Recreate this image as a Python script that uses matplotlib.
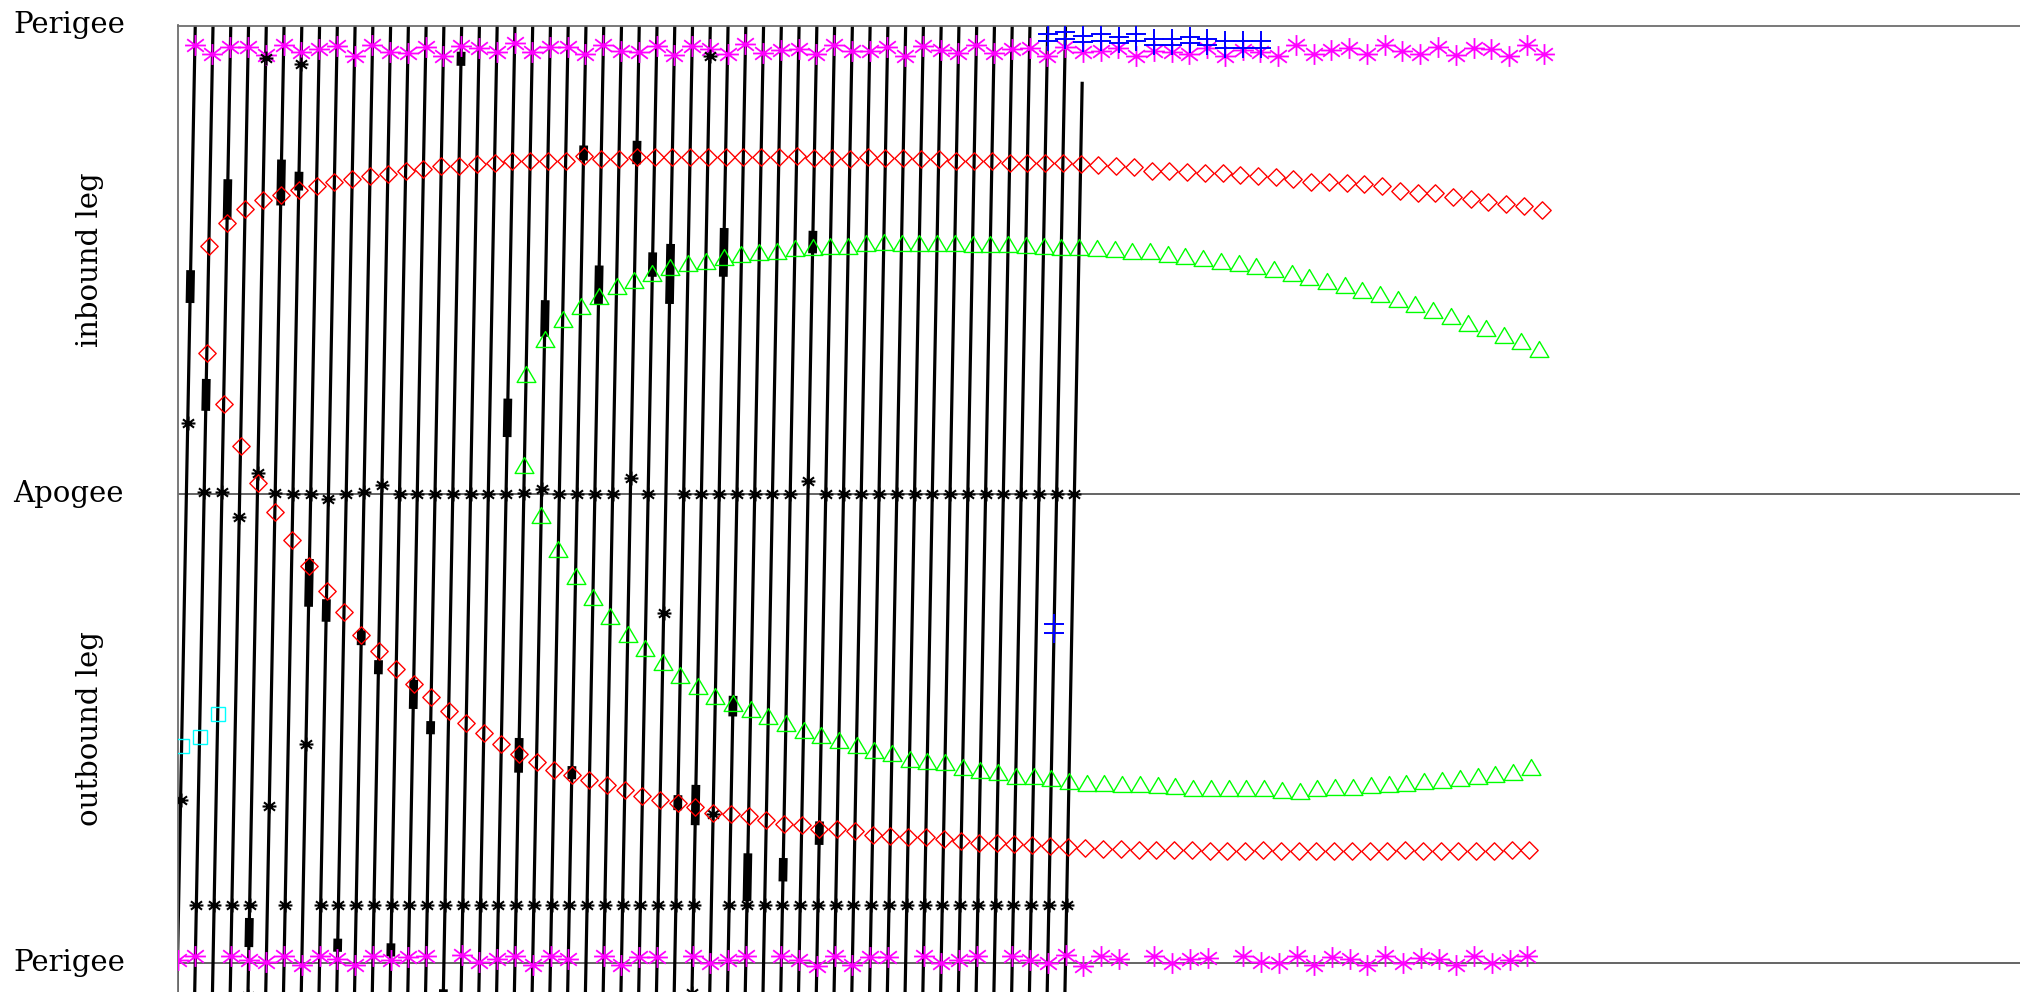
import numpy as np
import matplotlib
matplotlib.use("Agg")
import matplotlib.pyplot as plt
from matplotlib.path import Path
from matplotlib.transforms import blended_transform_factory

# x axis = time in orbits, y axis = orbital phase (0 perigee, 0.5 apogee, 1 next perigee)

n_orbit_lines = 51
orbit_line_end = [1.0] * 50 + [0.94]

top_mag_phase = [0.979,0.970,0.977,0.977,0.969,0.979,0.972,0.975,0.978,0.968,0.979,0.972,0.971,0.977,0.968,0.978,
                 0.976,0.972,0.981,0.972,0.977,0.977,0.970,0.979,0.973,0.972,0.978,0.969,0.978,0.975,0.970,0.980,
                 0.971,0.974,0.975,0.970,0.979,0.973,0.973,0.977,0.968,0.978,0.974,0.971,0.979,0.971,0.975,0.976,
                 0.968,0.977,0.972,0.973,0.976,0.967,0.973,0.972,0.970,0.976,0.968,0.974,0.972,0.968,0.979,0.970,
                 0.974,0.976,0.970,0.979,0.973,0.970,0.977,0.969,0.976,0.975,0.968,0.979,0.970]
top_mag_orbit = list(range(len(top_mag_phase)))

bot_mag_orbit = [0,1,3,4,5,6,7,8,9,10,11,12,13,14,16,17,18,19,20,21,22,24,25,26,27,29,30,31,32,34,
                 35,36,37,38,39,40,42,43,44,45,47,48,49,50,51,52,53,55,56,57,58,60,61,62,63,64,65,66,67,68,
                 69,70,71,72,73,74,75,76]
bot_mag_phase = [0.003,0.008,0.008,0.003,0.001,0.008,-0.002,0.007,0.004,-0.002,
                 0.008,0.003,0.006,0.008,0.009,0.001,0.004,0.008,-0.002,0.008,
                 0.004,0.008,-0.002,0.006,0.006,0.008,0.000,0.003,0.008,0.008,
                 0.003,-0.003,0.008,-0.002,0.006,0.006,0.008,0.000,0.003,0.008,
                 0.007,0.003,0.000,0.009,-0.003,0.007,0.004,0.008,0.000,0.004,
                 0.005,0.008,0.001,0.000,0.008,-0.002,0.006,0.004,-0.002,0.008,
                 0.000,0.005,0.004,-0.002,0.008,0.000,0.003,0.008]

red_in_phase = [0.765,0.789,0.804,0.814,0.819,0.825,0.829,0.833,0.836,0.839,0.842,0.845,0.847,0.850,0.850,0.852,
                0.853,0.855,0.855,0.856,0.856,0.861,0.858,0.858,0.860,0.860,0.860,0.860,0.860,0.860,0.860,0.860,
                0.860,0.861,0.859,0.859,0.858,0.860,0.859,0.859,0.858,0.858,0.856,0.855,0.855,0.853,0.853,0.853,
                0.853,0.852,0.851,0.850,0.849,0.845,0.845,0.844,0.843,0.843,0.841,0.840,0.838,0.836,0.833,0.833,
                0.832,0.831,0.829,0.824,0.821,0.821,0.817,0.815,0.812,0.810,0.808,0.803]
red_in_orbit = list(range(1, 1 + len(red_in_phase)))

red_out_phase = [0.651,0.596,0.551,0.512,0.481,0.451,0.424,0.397,0.374,0.350,0.333,0.314,0.298,0.284,
                 0.269,0.256,0.245,0.234,0.223,0.214,0.206,0.201,0.195,0.190,0.185,0.178,0.174,0.171,
                 0.166,0.160,0.159,0.157,0.153,0.148,0.147,0.143,0.143,0.141,0.137,0.135,0.134,0.134,
                 0.132,0.130,0.128,0.128,0.127,0.126,0.125,0.124,0.123,0.122,0.122,0.121,0.121,0.121,
                 0.121,0.120,0.119,0.120,0.121,0.120,0.120,0.119,0.119,0.120,0.119,0.119,0.121,0.120,
                 0.120,0.120,0.120,0.120,0.121,0.121]
red_out_orbit = list(range(1, 1 + len(red_out_phase)))

green_in_phase = [0.628,0.666,0.687,0.701,0.712,0.722,0.729,0.736,0.742,0.747,0.749,0.753,0.756,0.758,
                  0.760,0.763,0.764,0.765,0.765,0.768,0.769,0.768,0.768,0.768,0.768,0.767,0.767,0.767,
                  0.766,0.765,0.764,0.764,0.763,0.762,0.760,0.759,0.756,0.754,0.752,0.749,0.747,0.743,
                  0.740,0.736,0.732,0.727,0.723,0.718,0.714,0.708,0.703,0.697,0.690,0.683,0.677,0.670,
                  0.663,0.655]
green_in_orbit = list(range(19, 19 + len(green_in_phase)))

green_out_phase = [0.531,0.478,0.442,0.413,0.390,0.370,0.351,0.336,0.321,0.307,0.295,0.285,0.277,0.271,
                   0.263,0.256,0.249,0.243,0.238,0.233,0.227,0.224,0.218,0.215,0.214,0.209,0.206,0.204,
                   0.200,0.199,0.197,0.194,0.192,0.192,0.191,0.191,0.190,0.189,0.187,0.187,0.187,0.187,
                   0.187,0.185,0.184,0.187,0.188,0.188,0.190,0.191,0.192,0.194,0.195,0.197,0.199,0.202,
                   0.204,0.209]
green_out_orbit = list(range(19, 19 + len(green_out_phase)))

cyan_orbit = [0, 1, 2]
cyan_phase = [0.232, 0.241, 0.266]

blue_orbit = [48,49,50,51,52,53,54,55,56,57,58,59,60]
blue_phase = [0.991,0.993,0.989,0.991,0.988,0.991,0.986,0.986,0.988,0.986,0.983,0.983,0.983]
blue_lone_orbit = [49, 49]
blue_lone_phase = [0.362, 0.352]

# black asterisks
apo_orbit = [1,2,3,4,5,6,7,8,9,10,11,12,13,14,15,16,17,18,19,20,21,22,23,24,25,26,
             28,29,30,31,32,33,34,35,36,37,38,39,40,41,42,43,44,45,46,47,48,49,50]
apo_phase = [0.502,0.502,0.476,0.523,0.501,0.500,0.500,0.495,0.500,0.502,0.510,0.500,0.500,0.500,
             0.500,0.500,0.500,0.500,0.501,0.506,0.500,0.500,0.500,0.500,0.517,0.500,
             0.500,0.500,0.500,0.500,0.500,0.500,0.500,0.514,0.500,0.500,0.500,0.500,0.500,0.500,
             0.500,0.500,0.500,0.500,0.500,0.500,0.500,0.500,0.500]
low_orbit = [1,2,3,4,6,8,9,10,11,12,13,14,15,16,17,18,19,20,21,22,23,24,25,26,27,28,29,
             31,32,33,34,35,36,37,38,39,40,41,42,43,44,45,46,47,48,49,50]
low_phase = [0.062] * len(low_orbit)
odd_orbit = [0, 0, 5, 7, 27, 30, 4, 6, 29, 4, 29]
odd_phase = [0.576, 0.174, 0.167, 0.234, 0.373, 0.159, 0.965, 0.959, 0.968, -0.035, -0.032]

# thick black segments: orbit, phase start, phase end
seg_orbit = [0,1,2,4,5,6,7,8,9,10,11,12,13,14,15,15,18,19,20,22,22,23,25,26,27,28,29,30,31,32,34,35,36]
seg_lo = [0.704,0.589,0.793,0.017,0.808,0.824,0.380,0.364,0.012,0.339,0.308,0.007,0.271,0.244,0.957,-0.043,
          0.561,0.203,0.668,0.856,0.196,0.702,0.852,0.732,0.703,0.163,0.147,0.732,0.263,0.066,0.087,0.757,0.126]
seg_hi = [0.739,0.623,0.836,0.048,0.857,0.844,0.431,0.388,0.026,0.355,0.323,0.021,0.302,0.258,0.972,-0.028,
          0.602,0.240,0.707,0.872,0.210,0.744,0.877,0.758,0.767,0.179,0.190,0.784,0.285,0.117,0.112,0.781,0.151]

y_ticks = [0.0, 0.5, 1.0]
y_tick_labels = ["Perigee", "Apogee", "Perigee"]
leg_labels = ["inbound leg", "outbound leg"]
leg_pos = [0.75, 0.25]


def on_orbit(orbit, phase):
    orbit = np.asarray(orbit, dtype=float)
    phase = np.asarray(phase, dtype=float)
    return orbit + phase, phase


star = Path([(-1, 0), (1, 0), (0, -1), (0, 1), (-0.8, -0.6), (0.8, 0.6), (-0.8, 0.6), (0.8, -0.6)],
            [Path.MOVETO, Path.LINETO] * 4)
tri = Path([(0, 0.85), (-1, -0.85), (1, -0.85), (0, 0.85)],
           [Path.MOVETO, Path.LINETO, Path.LINETO, Path.CLOSEPOLY])
diamond = Path([(0, 1), (1, 0), (0, -1), (-1, 0), (0, 1)],
               [Path.MOVETO, Path.LINETO, Path.LINETO, Path.LINETO, Path.CLOSEPOLY])

fig = plt.figure(figsize=(20.2, 9.92), dpi=100)
left = 177.5 / 2020
ax = fig.add_axes([left, 0, 1 - left, 966.5 / 992])
ax.set_xlim(0, 1842.5 / 17.76)
ax.set_ylim(-29.0 / 938, 1.0)

for s in ["right", "bottom"]:
    ax.spines[s].set_visible(False)
for s in ["left", "top"]:
    ax.spines[s].set_color("#6e6e6e")
    ax.spines[s].set_linewidth(1.3)
ax.set_xticks([])
ax.set_yticks([])

ax.axhline(0.5, color="#3a3a3a", lw=1.1, zorder=1)
ax.axhline(0.0, color="#3a3a3a", lw=1.1, zorder=1)

# orbit tracks
for n in range(n_orbit_lines):
    xs, ys = on_orbit([n, n], [-0.05, orbit_line_end[n]])
    ax.plot(xs, ys, color="black", lw=2.3, solid_capstyle="butt", zorder=2)

for n, lo, hi in zip(seg_orbit, seg_lo, seg_hi):
    xs, ys = on_orbit([n, n], [lo, hi])
    ax.plot(xs, ys, color="black", lw=6.3, solid_capstyle="butt", zorder=3)

x, y = on_orbit(top_mag_orbit, top_mag_phase)
ax.plot(x, y, ls="none", marker=star, ms=15, mfc="none", mec="#ff00ff", mew=1.3, zorder=5)
x, y = on_orbit(bot_mag_orbit, bot_mag_phase)
ax.plot(x, y, ls="none", marker=star, ms=15, mfc="none", mec="#ff00ff", mew=1.3, zorder=5)

for o, p in [(apo_orbit, apo_phase), (low_orbit, low_phase), (odd_orbit, odd_phase)]:
    x, y = on_orbit(o, p)
    ax.plot(x, y, ls="none", marker=star, ms=10, mfc="none", mec="black", mew=1.5, zorder=5)

x, y = on_orbit(red_in_orbit, red_in_phase)
ax.plot(x, y, ls="none", marker=diamond, ms=12.5, mfc="none", mec="#ff0000", mew=1.0, zorder=6)
x, y = on_orbit(red_out_orbit, red_out_phase)
ax.plot(x, y, ls="none", marker=diamond, ms=12.5, mfc="none", mec="#ff0000", mew=1.0, zorder=6)

x, y = on_orbit(green_in_orbit, green_in_phase)
ax.plot(x, y, ls="none", marker=tri, ms=13.5, mfc="none", mec="#00ff00", mew=1.0, zorder=6)
x, y = on_orbit(green_out_orbit, green_out_phase)
ax.plot(x, y, ls="none", marker=tri, ms=13.5, mfc="none", mec="#00ff00", mew=1.0, zorder=6)

x, y = on_orbit(cyan_orbit, cyan_phase)
ax.plot(x, y, ls="none", marker="s", ms=10.5, mfc="none", mec="#00ffff", mew=1.0, zorder=6)

x, y = on_orbit(blue_orbit, blue_phase)
ax.plot(x, y, ls="none", marker="+", ms=14, mec="#0000ff", mew=1.4, zorder=7)
ax.plot(x, y - 0.007, ls="none", marker="+", ms=14, mec="#0000ff", mew=1.4, zorder=7)
x, y = on_orbit(blue_lone_orbit, blue_lone_phase)
ax.plot(x, y, ls="none", marker="+", ms=14, mec="#0000ff", mew=1.4, zorder=7)

lab_tr = blended_transform_factory(fig.transFigure, ax.transData)
for yv, lab in zip(y_ticks, y_tick_labels):
    ax.text(13 / 2020, yv, lab, transform=lab_tr, ha="left", va="center",
            fontsize=21, family="DejaVu Serif", clip_on=False)
for yv, lab in zip(leg_pos, leg_labels):
    ax.text(90 / 2020, yv, lab, transform=lab_tr, ha="center", va="center", rotation=90,
            fontsize=21, family="DejaVu Serif", clip_on=False)

fig.savefig("out.png", dpi=100)
